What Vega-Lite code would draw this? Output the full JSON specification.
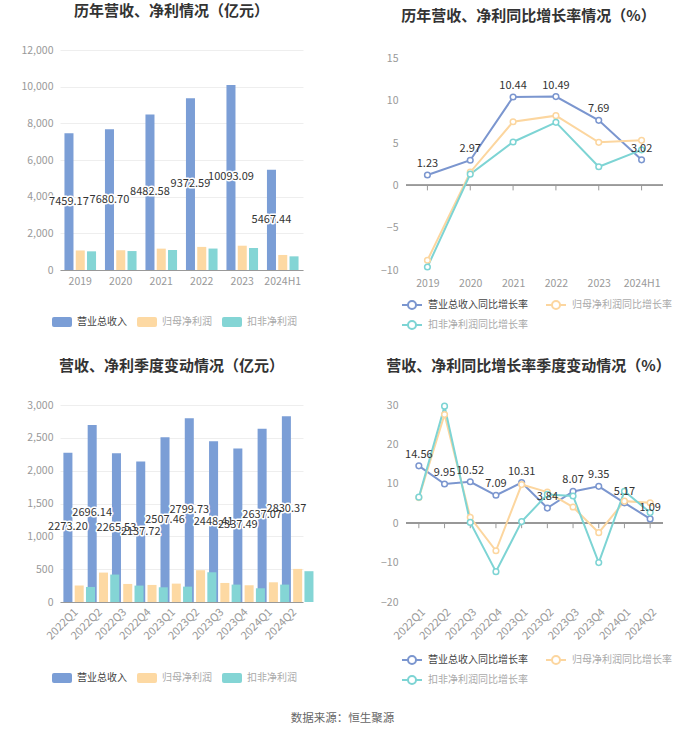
{
  "$schema": "https://vega.github.io/schema/vega-lite/v6.json",
  "background": "white",
  "padding": {"left": 20, "top": 4, "right": 5, "bottom": 8},
  "config": {
    "font": "Noto Sans CJK SC",
    "view": {"stroke": null},
    "axis": {"labelColor": "#999999", "labelFontSize": 10.5, "gridColor": "#eeeeee", "gridWidth": 1, "labelOverlap": false},
    "legend": {"labelFontSize": 10, "labelColor": "#aaaaaa", "labelOffset": 5, "columnPadding": 10, "rowPadding": 3, "orient": "none", "direction": "horizontal", "title": null}
  },
  "datasets": {
    "annual": [
      {"period": "2019", "series": "营业总收入", "value": 7459.17},
      {"period": "2020", "series": "营业总收入", "value": 7680.70},
      {"period": "2021", "series": "营业总收入", "value": 8482.58},
      {"period": "2022", "series": "营业总收入", "value": 9372.59},
      {"period": "2023", "series": "营业总收入", "value": 10093.09},
      {"period": "2024H1", "series": "营业总收入", "value": 5467.44},
      {"period": "2019", "series": "归母净利润", "value": 1066},
      {"period": "2020", "series": "归母净利润", "value": 1083},
      {"period": "2021", "series": "归母净利润", "value": 1165},
      {"period": "2022", "series": "归母净利润", "value": 1260},
      {"period": "2023", "series": "归母净利润", "value": 1325},
      {"period": "2024H1", "series": "归母净利润", "value": 820},
      {"period": "2019", "series": "扣非净利润", "value": 1018},
      {"period": "2020", "series": "扣非净利润", "value": 1033},
      {"period": "2021", "series": "扣非净利润", "value": 1090},
      {"period": "2022", "series": "扣非净利润", "value": 1170},
      {"period": "2023", "series": "扣非净利润", "value": 1200},
      {"period": "2024H1", "series": "扣非净利润", "value": 745}
    ],
    "annualGrowth": [
      {"period": "2019", "series": "营业总收入同比增长率", "value": 1.23},
      {"period": "2020", "series": "营业总收入同比增长率", "value": 2.97},
      {"period": "2021", "series": "营业总收入同比增长率", "value": 10.44},
      {"period": "2022", "series": "营业总收入同比增长率", "value": 10.49},
      {"period": "2023", "series": "营业总收入同比增长率", "value": 7.69},
      {"period": "2024H1", "series": "营业总收入同比增长率", "value": 3.02},
      {"period": "2019", "series": "归母净利润同比增长率", "value": -8.85},
      {"period": "2020", "series": "归母净利润同比增长率", "value": 1.56},
      {"period": "2021", "series": "归母净利润同比增长率", "value": 7.52},
      {"period": "2022", "series": "归母净利润同比增长率", "value": 8.24},
      {"period": "2023", "series": "归母净利润同比增长率", "value": 5.09},
      {"period": "2024H1", "series": "归母净利润同比增长率", "value": 5.32},
      {"period": "2019", "series": "扣非净利润同比增长率", "value": -9.65},
      {"period": "2020", "series": "扣非净利润同比增长率", "value": 1.33},
      {"period": "2021", "series": "扣非净利润同比增长率", "value": 5.13},
      {"period": "2022", "series": "扣非净利润同比增长率", "value": 7.45},
      {"period": "2023", "series": "扣非净利润同比增长率", "value": 2.2},
      {"period": "2024H1", "series": "扣非净利润同比增长率", "value": 4.2}
    ],
    "quarterly": [
      {"period": "2022Q1", "series": "营业总收入", "value": 2273.20},
      {"period": "2022Q2", "series": "营业总收入", "value": 2696.14},
      {"period": "2022Q3", "series": "营业总收入", "value": 2265.53},
      {"period": "2022Q4", "series": "营业总收入", "value": 2137.72},
      {"period": "2023Q1", "series": "营业总收入", "value": 2507.46},
      {"period": "2023Q2", "series": "营业总收入", "value": 2799.73},
      {"period": "2023Q3", "series": "营业总收入", "value": 2448.41},
      {"period": "2023Q4", "series": "营业总收入", "value": 2337.49},
      {"period": "2024Q1", "series": "营业总收入", "value": 2637.07},
      {"period": "2024Q2", "series": "营业总收入", "value": 2830.37},
      {"period": "2022Q1", "series": "归母净利润", "value": 250},
      {"period": "2022Q2", "series": "归母净利润", "value": 448},
      {"period": "2022Q3", "series": "归母净利润", "value": 275},
      {"period": "2022Q4", "series": "归母净利润", "value": 260},
      {"period": "2023Q1", "series": "归母净利润", "value": 280},
      {"period": "2023Q2", "series": "归母净利润", "value": 484},
      {"period": "2023Q3", "series": "归母净利润", "value": 290},
      {"period": "2023Q4", "series": "归母净利润", "value": 255},
      {"period": "2024Q1", "series": "归母净利润", "value": 300},
      {"period": "2024Q2", "series": "归母净利润", "value": 504},
      {"period": "2022Q1", "series": "扣非净利润", "value": 229},
      {"period": "2022Q2", "series": "扣非净利润", "value": 418},
      {"period": "2022Q3", "series": "扣非净利润", "value": 250},
      {"period": "2022Q4", "series": "扣非净利润", "value": 224},
      {"period": "2023Q1", "series": "扣非净利润", "value": 234},
      {"period": "2023Q2", "series": "扣非净利润", "value": 453},
      {"period": "2023Q3", "series": "扣非净利润", "value": 265},
      {"period": "2023Q4", "series": "扣非净利润", "value": 209},
      {"period": "2024Q1", "series": "扣非净利润", "value": 265},
      {"period": "2024Q2", "series": "扣非净利润", "value": 469}
    ],
    "quarterlyGrowth": [
      {"period": "2022Q1", "series": "营业总收入同比增长率", "value": 14.56},
      {"period": "2022Q2", "series": "营业总收入同比增长率", "value": 9.95},
      {"period": "2022Q3", "series": "营业总收入同比增长率", "value": 10.52},
      {"period": "2022Q4", "series": "营业总收入同比增长率", "value": 7.09},
      {"period": "2023Q1", "series": "营业总收入同比增长率", "value": 10.31},
      {"period": "2023Q2", "series": "营业总收入同比增长率", "value": 3.84},
      {"period": "2023Q3", "series": "营业总收入同比增长率", "value": 8.07},
      {"period": "2023Q4", "series": "营业总收入同比增长率", "value": 9.35},
      {"period": "2024Q1", "series": "营业总收入同比增长率", "value": 5.17},
      {"period": "2024Q2", "series": "营业总收入同比增长率", "value": 1.09},
      {"period": "2022Q1", "series": "归母净利润同比增长率", "value": 6.5},
      {"period": "2022Q2", "series": "归母净利润同比增长率", "value": 27.6},
      {"period": "2022Q3", "series": "归母净利润同比增长率", "value": 1.5},
      {"period": "2022Q4", "series": "归母净利润同比增长率", "value": -7.0},
      {"period": "2023Q1", "series": "归母净利润同比增长率", "value": 9.8},
      {"period": "2023Q2", "series": "归母净利润同比增长率", "value": 7.9},
      {"period": "2023Q3", "series": "归母净利润同比增长率", "value": 4.1},
      {"period": "2023Q4", "series": "归母净利润同比增长率", "value": -2.4},
      {"period": "2024Q1", "series": "归母净利润同比增长率", "value": 5.6},
      {"period": "2024Q2", "series": "归母净利润同比增长率", "value": 5.2},
      {"period": "2022Q1", "series": "扣非净利润同比增长率", "value": 6.6},
      {"period": "2022Q2", "series": "扣非净利润同比增长率", "value": 29.7},
      {"period": "2022Q3", "series": "扣非净利润同比增长率", "value": 0.2},
      {"period": "2022Q4", "series": "扣非净利润同比增长率", "value": -12.3},
      {"period": "2023Q1", "series": "扣非净利润同比增长率", "value": 0.4},
      {"period": "2023Q2", "series": "扣非净利润同比增长率", "value": 7.3},
      {"period": "2023Q3", "series": "扣非净利润同比增长率", "value": 6.9},
      {"period": "2023Q4", "series": "扣非净利润同比增长率", "value": -10.0},
      {"period": "2024Q1", "series": "扣非净利润同比增长率", "value": 8.1},
      {"period": "2024Q2", "series": "扣非净利润同比增长率", "value": 2.7}
    ]
  },
  "title": {"text": "数据来源：恒生聚源", "orient": "bottom", "anchor": "middle", "fontSize": 11.5, "fontWeight": "normal", "color": "#666666", "offset": 25, "dx": -4},
  "bounds": "flush",
  "columns": 2,
  "spacing": {"row": 135, "column": 103},
  "resolve": {"scale": {"color": "independent", "x": "independent", "y": "independent"}, "legend": {"color": "independent"}},
  "concat": [
        {
          "width": 243, "height": 220,
          "title": {"text": "历年营收、净利情况（亿元）", "fontSize": 15, "fontWeight": "bold", "color": "#333333", "offset": 26, "anchor": "middle", "dx": -10},
          "data": {"name": "annual"},
          "layer": [
            {
              "mark": {"type": "bar"},
              "encoding": {
                "x": {"field": "period", "type": "nominal", "sort": null, "scale": {"paddingInner": 0.22, "paddingOuter": 0.11}, "axis": {"title": null, "labelAngle": 0, "domainColor": "#999999", "ticks": false, "labelPadding": 6, "grid": false}},
                "xOffset": {"field": "series", "type": "nominal", "sort": ["营业总收入", "归母净利润", "扣非净利润"], "scale": {"paddingInner": 0.2}},
                "y": {"field": "value", "type": "quantitative", "scale": {"domain": [0, 12000]}, "axis": {"title": null, "values": [0, 2000, 4000, 6000, 8000, 10000, 12000], "format": ",d", "domain": false, "ticks": false, "labelPadding": 7}},
                "color": {"field": "series", "type": "nominal", "sort": ["营业总收入", "归母净利润", "扣非净利润"], "scale": {"domain": ["营业总收入", "归母净利润", "扣非净利润"], "range": ["#7b9ed6", "#fdd9a3", "#84d5d5"]},
                  "legend": {"symbolType": "M-0.8,-0.5H0.8Q1,-0.5 1,-0.3V0.3Q1,0.5 0.8,0.5H-0.8Q-1,0.5 -1,0.3V-0.3Q-1,-0.5 -0.8,-0.5Z", "symbolSize": 400, "symbolStrokeWidth": 0, "legendX": -8, "legendY": 262,
                    "encode": {"labels": {"update": {"fill": {"signal": "datum.label === '营业总收入' ? '#444444' : '#aaaaaa'"}}}}}}
              }
            },
            {
              "transform": [{"filter": "datum.series === '营业总收入'"}],
              "mark": {"type": "text", "fontSize": 11, "stroke": "white", "strokeWidth": 3, "strokeJoin": "round", "fill": "white"},
              "encoding": {
                "x": {"field": "period", "type": "nominal", "sort": null},
                "xOffset": {"field": "series", "type": "nominal", "sort": ["营业总收入", "归母净利润", "扣非净利润"]},
                "y": {"field": "value", "type": "quantitative", "scale": {"domain": [0, 24000]}, "axis": null},
                "text": {"field": "value", "type": "quantitative", "format": ".2f"}
              }
            },
            {
              "transform": [{"filter": "datum.series === '营业总收入'"}],
              "mark": {"type": "text", "fontSize": 11, "fill": "#333333"},
              "encoding": {
                "x": {"field": "period", "type": "nominal", "sort": null},
                "xOffset": {"field": "series", "type": "nominal", "sort": ["营业总收入", "归母净利润", "扣非净利润"]},
                "y": {"field": "value", "type": "quantitative", "scale": {"domain": [0, 24000]}, "axis": null},
                "text": {"field": "value", "type": "quantitative", "format": ".2f"}
              }
            }
          ],
          "resolve": {"scale": {"y": "independent"}}
        },
        {
          "width": 257, "height": 220,
          "title": {"text": "历年营收、净利同比增长率情况（%）", "fontSize": 15, "fontWeight": "bold", "color": "#333333", "offset": 26, "anchor": "middle", "dx": -6},
          "data": {"name": "annualGrowth"},
          "layer": [
            {
              "mark": {"type": "rule", "color": "#999999", "strokeWidth": 1},
              "encoding": {"y": {"datum": 0, "type": "quantitative", "scale": {"domain": [-10, 15]}, "axis": {"title": null, "values": [-10, -5, 0, 5, 10, 15], "domain": false, "ticks": false, "labelPadding": 8}}}
            },
            {
              "transform": [{"filter": "datum.series === '营业总收入同比增长率'"}],
              "mark": {"type": "rule", "color": "#999999", "strokeWidth": 1, "y2Offset": 5},
              "encoding": {
                "x": {"field": "period", "type": "nominal", "sort": null, "scale": {"type": "point", "padding": 0.5}, "axis": {"title": null, "labelAngle": 0, "domain": false, "ticks": false, "labelPadding": 8, "grid": false}},
                "y": {"datum": 0, "type": "quantitative", "axis": {"title": null, "values": [-10, -5, 0, 5, 10, 15], "domain": false, "ticks": false, "labelPadding": 8}},
                "y2": {"datum": 0}
              }
            },
            {
              "mark": {"type": "line", "strokeWidth": 2},
              "encoding": {
                "x": {"field": "period", "type": "nominal", "sort": null},
                "y": {"field": "value", "type": "quantitative", "axis": {"title": null, "values": [-10, -5, 0, 5, 10, 15], "domain": false, "ticks": false, "labelPadding": 8}},
                "color": {"field": "series", "type": "nominal", "sort": ["营业总收入同比增长率", "归母净利润同比增长率", "扣非净利润同比增长率"], "scale": {"domain": ["营业总收入同比增长率", "归母净利润同比增长率", "扣非净利润同比增长率"], "range": ["#7b96cf", "#fcd69f", "#7dd4d4"]},
                  "legend": {"symbolType": "M-1.25,0H-0.5M0.5,0H1.25M0.5,0A0.5,0.5 0 1 1 -0.5,0A0.5,0.5 0 1 1 0.5,0Z", "symbolSize": 256, "symbolStrokeWidth": 2, "symbolFillColor": "white", "columns": 2, "labelOffset": 7, "columnPadding": 14, "legendX": -3, "legendY": 246,
                    "encode": {"labels": {"update": {"fill": {"signal": "datum.label === '营业总收入同比增长率' ? '#444444' : '#aaaaaa'"}}}}}}
              }
            },
            {
              "mark": {"type": "point", "filled": false, "fill": "white", "size": 32, "strokeWidth": 1.5, "opacity": 1},
              "encoding": {
                "x": {"field": "period", "type": "nominal", "sort": null},
                "y": {"field": "value", "type": "quantitative", "axis": {"title": null, "values": [-10, -5, 0, 5, 10, 15], "domain": false, "ticks": false, "labelPadding": 8}},
                "color": {"field": "series", "type": "nominal", "sort": ["营业总收入同比增长率", "归母净利润同比增长率", "扣非净利润同比增长率"]}
              }
            },
            {
              "transform": [{"filter": "datum.series === '营业总收入同比增长率'"}],
              "mark": {"type": "text", "fontSize": 11, "fill": "#333333", "baseline": "bottom", "dy": -6},
              "encoding": {
                "x": {"field": "period", "type": "nominal", "sort": null},
                "y": {"field": "value", "type": "quantitative", "axis": {"title": null, "values": [-10, -5, 0, 5, 10, 15], "domain": false, "ticks": false, "labelPadding": 8}},
                "text": {"field": "value", "type": "quantitative", "format": ".2f"}
              }
            }
          ]
        },
        {
          "width": 243, "height": 197,
          "title": {"text": "营收、净利季度变动情况（亿元）", "fontSize": 15, "fontWeight": "bold", "color": "#333333", "offset": 26, "anchor": "middle", "dx": -10},
          "data": {"name": "quarterly"},
          "layer": [
            {
              "mark": {"type": "bar"},
              "encoding": {
                "x": {"field": "period", "type": "nominal", "sort": null, "scale": {"paddingInner": 0.27, "paddingOuter": 0.14}, "axis": {"title": null, "labelAngle": -45, "labelFontSize": 11, "domainColor": "#999999", "ticks": false, "labelPadding": 4, "grid": false}},
                "xOffset": {"field": "series", "type": "nominal", "sort": ["营业总收入", "归母净利润", "扣非净利润"], "scale": {"paddingInner": 0.2}},
                "y": {"field": "value", "type": "quantitative", "scale": {"domain": [0, 3000]}, "axis": {"title": null, "values": [0, 500, 1000, 1500, 2000, 2500, 3000], "format": ",d", "domain": false, "ticks": false, "labelPadding": 7}},
                "color": {"field": "series", "type": "nominal", "sort": ["营业总收入", "归母净利润", "扣非净利润"], "scale": {"domain": ["营业总收入", "归母净利润", "扣非净利润"], "range": ["#7b9ed6", "#fdd9a3", "#84d5d5"]},
                  "legend": {"symbolType": "M-0.8,-0.5H0.8Q1,-0.5 1,-0.3V0.3Q1,0.5 0.8,0.5H-0.8Q-1,0.5 -1,0.3V-0.3Q-1,-0.5 -0.8,-0.5Z", "symbolSize": 400, "symbolStrokeWidth": 0, "legendX": -8, "legendY": 263,
                    "encode": {"labels": {"update": {"fill": {"signal": "datum.label === '营业总收入' ? '#444444' : '#aaaaaa'"}}}}}}
              }
            },
            {
              "transform": [{"filter": "datum.series === '营业总收入'"}],
              "mark": {"type": "text", "fontSize": 11, "stroke": "white", "strokeWidth": 3, "strokeJoin": "round", "fill": "white"},
              "encoding": {
                "x": {"field": "period", "type": "nominal", "sort": null},
                "xOffset": {"field": "series", "type": "nominal", "sort": ["营业总收入", "归母净利润", "扣非净利润"]},
                "y": {"field": "value", "type": "quantitative", "scale": {"domain": [0, 6000]}, "axis": null},
                "text": {"field": "value", "type": "quantitative", "format": ".2f"}
              }
            },
            {
              "transform": [{"filter": "datum.series === '营业总收入'"}],
              "mark": {"type": "text", "fontSize": 11, "fill": "#333333"},
              "encoding": {
                "x": {"field": "period", "type": "nominal", "sort": null},
                "xOffset": {"field": "series", "type": "nominal", "sort": ["营业总收入", "归母净利润", "扣非净利润"]},
                "y": {"field": "value", "type": "quantitative", "scale": {"domain": [0, 6000]}, "axis": null},
                "text": {"field": "value", "type": "quantitative", "format": ".2f"}
              }
            }
          ],
          "resolve": {"scale": {"y": "independent"}}
        },
        {
          "width": 257, "height": 197,
          "title": {"text": "营收、净利同比增长率季度变动情况（%）", "fontSize": 15, "fontWeight": "bold", "color": "#333333", "offset": 26, "anchor": "middle", "dx": -6},
          "data": {"name": "quarterlyGrowth"},
          "layer": [
            {
              "mark": {"type": "rule", "color": "#999999", "strokeWidth": 1},
              "encoding": {"y": {"datum": 0, "type": "quantitative", "scale": {"domain": [-20, 30]}, "axis": {"title": null, "values": [-20, -10, 0, 10, 20, 30], "domain": false, "ticks": false, "labelPadding": 8}}}
            },
            {
              "transform": [{"filter": "datum.series === '营业总收入同比增长率'"}],
              "mark": {"type": "rule", "color": "#999999", "strokeWidth": 1, "y2Offset": 5},
              "encoding": {
                "x": {"field": "period", "type": "nominal", "sort": null, "scale": {"type": "point", "padding": 0.5}, "axis": {"title": null, "labelAngle": -45, "labelFontSize": 11, "domain": false, "ticks": false, "labelPadding": 4, "grid": false}},
                "y": {"datum": 0, "type": "quantitative", "axis": {"title": null, "values": [-20, -10, 0, 10, 20, 30], "domain": false, "ticks": false, "labelPadding": 8}},
                "y2": {"datum": 0}
              }
            },
            {
              "mark": {"type": "line", "strokeWidth": 2},
              "encoding": {
                "x": {"field": "period", "type": "nominal", "sort": null},
                "y": {"field": "value", "type": "quantitative", "axis": {"title": null, "values": [-20, -10, 0, 10, 20, 30], "domain": false, "ticks": false, "labelPadding": 8}},
                "color": {"field": "series", "type": "nominal", "sort": ["营业总收入同比增长率", "归母净利润同比增长率", "扣非净利润同比增长率"], "scale": {"domain": ["营业总收入同比增长率", "归母净利润同比增长率", "扣非净利润同比增长率"], "range": ["#7b96cf", "#fcd69f", "#7dd4d4"]},
                  "legend": {"symbolType": "M-1.25,0H-0.5M0.5,0H1.25M0.5,0A0.5,0.5 0 1 1 -0.5,0A0.5,0.5 0 1 1 0.5,0Z", "symbolSize": 256, "symbolStrokeWidth": 2, "symbolFillColor": "white", "columns": 2, "labelOffset": 7, "columnPadding": 14, "legendX": -3, "legendY": 246,
                    "encode": {"labels": {"update": {"fill": {"signal": "datum.label === '营业总收入同比增长率' ? '#444444' : '#aaaaaa'"}}}}}}
              }
            },
            {
              "mark": {"type": "point", "filled": false, "fill": "white", "size": 32, "strokeWidth": 1.5, "opacity": 1},
              "encoding": {
                "x": {"field": "period", "type": "nominal", "sort": null},
                "y": {"field": "value", "type": "quantitative", "axis": {"title": null, "values": [-20, -10, 0, 10, 20, 30], "domain": false, "ticks": false, "labelPadding": 8}},
                "color": {"field": "series", "type": "nominal", "sort": ["营业总收入同比增长率", "归母净利润同比增长率", "扣非净利润同比增长率"]}
              }
            },
            {
              "transform": [{"filter": "datum.series === '营业总收入同比增长率'"}],
              "mark": {"type": "text", "fontSize": 11, "fill": "#333333", "baseline": "bottom", "dy": -6},
              "encoding": {
                "x": {"field": "period", "type": "nominal", "sort": null},
                "y": {"field": "value", "type": "quantitative", "axis": {"title": null, "values": [-20, -10, 0, 10, 20, 30], "domain": false, "ticks": false, "labelPadding": 8}},
                "text": {"field": "value", "type": "quantitative", "format": ".2f"}
              }
            }
          ]
        }
  ]
}
